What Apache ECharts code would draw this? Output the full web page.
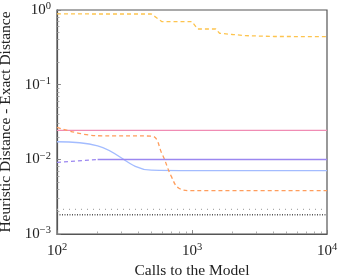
<!DOCTYPE html>
<html>
<head>
<meta charset="utf-8">
<script src="https://cdn.jsdelivr.net/npm/echarts@6/dist/echarts.min.js"></script>
<style>html,body{margin:0;padding:0;background:#fff;}#c{width:342px;height:275px;}</style>
</head>
<body>
<div id="c"></div>
<script>
// ---- data ----
const xTickValues = [100,200,300,400,500,600,700,800,900,1000,2000,3000,4000,5000,6000,7000,8000,9000,10000];
const xLabelValues = [100,1000,10000];
const yTickValues = [0.001,0.002,0.003,0.004,0.005,0.006,0.007,0.008,0.009,0.01,0.02,0.03,0.04,0.05,0.06,0.07,0.08,0.09,0.1,0.2,0.3,0.4,0.5,0.6,0.7,0.8,0.9,1];
const yLabelValues = [0.001,0.01,0.1,1];

const yellowX = [100,500,600,1000,1100,1500,1600,2000,2500,4000,10000];
const yellowY = [0.885,0.884,0.697,0.697,0.557,0.557,0.488,0.47,0.453,0.442,0.44];

const pinkX = [100,10000];
const pinkY = [0.0245,0.0245];

const orangeX = [100,200,500,600,700,800,1000,10000];
const orangeY = [0.0268,0.0207,0.0205,0.0118,0.0060,0.0041,0.0038,0.0038];

const blueX = [100,200,500,1000,10000];
const blueY = [0.0172,0.0152,0.00715,0.00705,0.00705];

const purpleDashX = [100,200];
const purpleDashY = [0.0091,0.00995];
const purpleX = [200,10000];
const purpleY = [0.00995,0.00995];

const grayLooseX = [100,10000];
const grayLooseY = [0.00214,0.00214];
const grayDenseX = [100,10000];
const grayDenseY = [0.00181,0.00181];

function pts(xs, ys){ return xs.map((x,i)=>[x, ys[i]]); }
function sup(v){
  const e = Math.round(Math.log10(v));
  return '{b|10}{s|' + (e < 0 ? '\u2212' + (-e) : e) + '}';
}
const FONT = '"Liberation Serif", "DejaVu Serif", serif';
const rich = {
  b: {fontFamily: FONT, fontSize: 15, color: '#222'},
  s: {fontFamily: FONT, fontSize: 10.5, color: '#222', padding: [0,0,7,0]}
};

const chart = echarts.init(document.getElementById('c'), null, {renderer: 'canvas'});
function line(data, color, type, smooth, z){
  return {
    type: 'line', data: data, showSymbol: false, symbol: 'none',
    smooth: smooth || false, animation: false, silent: true, z: z || 2,
    emphasis: {disabled: true},
    lineStyle: {color: color, width: 1.3, type: type, opacity: 1}
  };
}
chart.setOption({
  animation: false,
  tooltip: {show: false},
  grid: {left: 57, right: 15, top: 10, bottom: 41, show: true, borderColor: '#555', borderWidth: 1.2, containLabel: false, outerBoundsMode: 'none'},
  xAxis: [{
    type: 'log', min: 100, max: 10000, logBase: 10,
    name: 'Calls to the Model', nameLocation: 'middle', nameGap: 26,
    nameTextStyle: {fontFamily: FONT, fontSize: 15.5, color: '#222'},
    axisLine: {show: true, lineStyle: {color: '#555', width: 1.2}},
    axisTick: {show: true, inside: true, length: 2.5, customValues: xTickValues, lineStyle: {color: '#999', width: 0.8}},
    axisLabel: {show: true, margin: 8, customValues: xLabelValues, formatter: sup, rich: rich},
    splitLine: {show: false}, minorTick: {show: false}, minorSplitLine: {show: false}
  }, {
    type: 'log', min: 100, max: 10000, logBase: 10, position: 'bottom',
    axisLine: {show: false},
    axisTick: {show: true, inside: true, length: 4, customValues: xLabelValues, lineStyle: {color: '#777', width: 0.8}},
    axisLabel: {show: false}, splitLine: {show: false}, minorSplitLine: {show: false}
  }],
  yAxis: [{
    type: 'log', min: 0.001, max: 1, logBase: 10,
    name: 'Heuristic Distance - Exact Distance', nameLocation: 'middle', nameGap: 36,
    nameTextStyle: {fontFamily: FONT, fontSize: 15.5, color: '#222'},
    axisLine: {show: true, lineStyle: {color: '#555', width: 1.2}},
    axisTick: {show: true, inside: true, length: 2.5, customValues: yTickValues, lineStyle: {color: '#999', width: 0.8}},
    axisLabel: {show: true, margin: 6, customValues: yLabelValues, formatter: sup, rich: rich},
    splitLine: {show: false}, minorTick: {show: false}, minorSplitLine: {show: false}
  }, {
    type: 'log', min: 0.001, max: 1, logBase: 10, position: 'left',
    axisLine: {show: false},
    axisTick: {show: true, inside: true, length: 4, customValues: yLabelValues, lineStyle: {color: '#777', width: 0.8}},
    axisLabel: {show: false}, splitLine: {show: false}, minorSplitLine: {show: false}
  }],
  series: [
    line(pts(grayLooseX, grayLooseY), '#aaaaaa', [1,5]),
    line(pts(grayDenseX, grayDenseY), '#555555', [1,1.5]),
    line(pts(pinkX, pinkY), '#f08cb4', 'solid'),
    line(pts(purpleDashX, purpleDashY), '#9b87f0', [4,3]),
    line(pts(blueX, blueY), '#a3bcff', 'solid', 0.4),
    line(pts(orangeX, orangeY), '#ff9d5c', [4,3], 0.4),
    line(pts(yellowX, yellowY), '#fdc44e', [4,3]),
    line(pts(purpleX, purpleY), '#9b87f0', 'solid', false, 5)
  ]
});
</script>
</body>
</html>
